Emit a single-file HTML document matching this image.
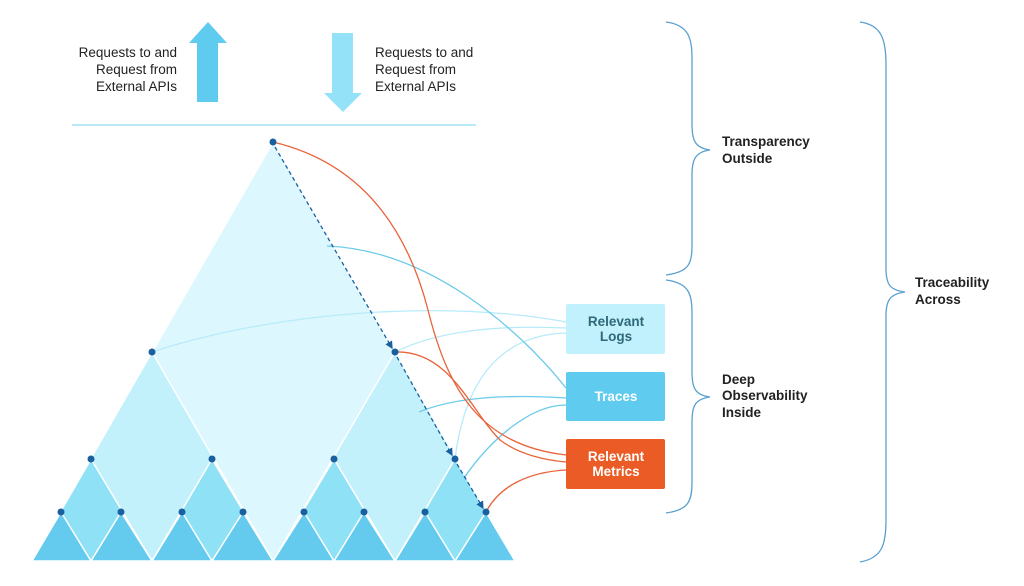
<!DOCTYPE html>
<html><head><meta charset="utf-8"><style>
html,body{margin:0;padding:0;background:#fff;}
svg{display:block;font-family:"Liberation Sans",sans-serif;}
</style></head><body>
<svg width="1024" height="586" viewBox="0 0 1024 586" xmlns="http://www.w3.org/2000/svg">
<defs>
<marker id="ah" markerWidth="6" markerHeight="6" refX="5" refY="3" orient="auto"><path d="M0,0 L6,3 L0,6 z" fill="#1a5f9e"/></marker>
</defs>
<polygon points="208,22 227,43 218,43 218,102 197,102 197,43 189,43" fill="#5fcbef"/>
<polygon points="332,33 353,33 353,93 362,93 343,112 324,93 332,93" fill="#93e2f8"/>
<g font-size="13.5" fill="#222">
<text x="177" y="57" text-anchor="end">Requests to and</text>
<text x="177" y="74" text-anchor="end">Request from</text>
<text x="177" y="91" text-anchor="end">External APIs</text>
<text x="375" y="57">Requests to and</text>
<text x="375" y="74">Request from</text>
<text x="375" y="91">External APIs</text>
</g>
<line x1="72" y1="125" x2="476" y2="125" stroke="#8fdcf4" stroke-width="1.3"/>
<g stroke="#fff" stroke-width="1.5">
<polygon points="273,142 515,561 32,561" fill="#dcf7fd"/>
<polygon points="152,352 273,561 32,561" fill="#c2f1fc"/>
<polygon points="395,352 515,561 273,561" fill="#c2f1fc"/>
<polygon points="91,459 152,561 32,561" fill="#8fe1f6"/>
<polygon points="212,459 273,561 152,561" fill="#8fe1f6"/>
<polygon points="334,459 395,561 273,561" fill="#8fe1f6"/>
<polygon points="455,459 515,561 395,561" fill="#8fe1f6"/>
<g fill="#64caee">
<polygon points="61,512 91,561 32,561"/><polygon points="121,512 152,561 91,561"/>
<polygon points="182,512 212,561 152,561"/><polygon points="243,512 273,561 212,561"/>
<polygon points="304,512 334,561 273,561"/><polygon points="364,512 395,561 334,561"/>
<polygon points="425,512 455,561 395,561"/><polygon points="486,512 515,561 455,561"/>
</g>
</g>
<g fill="none" stroke-width="1.3">
<path d="M152,352 C280,310 450,300 566,322" stroke="#b8ebf9"/>
<path d="M395,352 C440,330 500,325 566,328" stroke="#b8ebf9"/>
<path d="M455,459 C465,380 500,335 566,333" stroke="#b8ebf9"/>
<path d="M327,246 C430,250 520,330 566,388" stroke="#6ccbea"/>
<path d="M419,412 C460,395 520,395 566,398" stroke="#6ccbea"/>
<path d="M464,478 C490,440 530,405 566,405" stroke="#6ccbea"/>
<path d="M273,142 C370,165 410,240 428,310 C448,390 480,445 566,455" stroke="#e8643a"/>
<path d="M395,352 C450,350 470,410 500,440 C520,455 545,460 566,462" stroke="#e8643a"/>
<path d="M486,512 C500,485 530,472 566,470" stroke="#e8643a"/>
<path d="M275,147 L392,348" stroke="#1a5f9e" stroke-dasharray="4,3" marker-end="url(#ah)"/>
<path d="M397,357 L452,455" stroke="#1a5f9e" stroke-dasharray="4,3" marker-end="url(#ah)"/>
<path d="M457,464 L483,508" stroke="#1a5f9e" stroke-dasharray="4,3" marker-end="url(#ah)"/>
</g>
<g fill="#1a5f9e">
<circle cx="273" cy="142" r="3.5"/><circle cx="152" cy="352" r="3.5"/><circle cx="395" cy="352" r="3.5"/>
<circle cx="91" cy="459" r="3.5"/><circle cx="212" cy="459" r="3.5"/><circle cx="334" cy="459" r="3.5"/><circle cx="455" cy="459" r="3.5"/>
<circle cx="61" cy="512" r="3.5"/><circle cx="121" cy="512" r="3.5"/><circle cx="182" cy="512" r="3.5"/><circle cx="243" cy="512" r="3.5"/>
<circle cx="304" cy="512" r="3.5"/><circle cx="364" cy="512" r="3.5"/><circle cx="425" cy="512" r="3.5"/><circle cx="486" cy="512" r="3.5"/>
</g>
<rect x="566" y="304" width="99" height="50" rx="2" fill="#c1f1fd"/>
<rect x="566" y="372" width="99" height="49" rx="2" fill="#5fcbef"/>
<rect x="566" y="439" width="99" height="50" rx="2" fill="#eb5b25"/>
<g font-size="13.5" font-weight="bold" text-anchor="middle">
<text x="616" y="326" fill="#2f6878">Relevant</text>
<text x="616" y="341" fill="#2f6878">Logs</text>
<text x="616" y="401" fill="#fff">Traces</text>
<text x="616" y="461" fill="#fff">Relevant</text>
<text x="616" y="476" fill="#fff">Metrics</text>
</g>
<g fill="none" stroke="#5aa0cf" stroke-width="1.3">
<path d="M666,22 C690,25 692,40 692,60 L692,125 C692,140 695,148 710,150 C695,152 692,160 692,175 L692,245 C692,265 688,272 666,275"/>
<path d="M666,280 C690,283 692,295 692,315 L692,372 C692,388 695,395 710,397 C695,399 692,406 692,422 L692,482 C692,502 688,510 666,513"/>
<path d="M860,22 C882,25 886,40 886,65 L886,268 C886,285 890,290 905,292 C890,294 886,300 886,316 L886,520 C886,545 882,558 860,562"/>
</g>
<g font-size="13.5" font-weight="bold" fill="#222">
<text x="722" y="146">Transparency</text><text x="722" y="163">Outside</text>
<text x="722" y="384">Deep</text><text x="722" y="400">Observability</text><text x="722" y="417">Inside</text>
<text x="915" y="287">Traceability</text><text x="915" y="304">Across</text>
</g>
</svg>
</body></html>
